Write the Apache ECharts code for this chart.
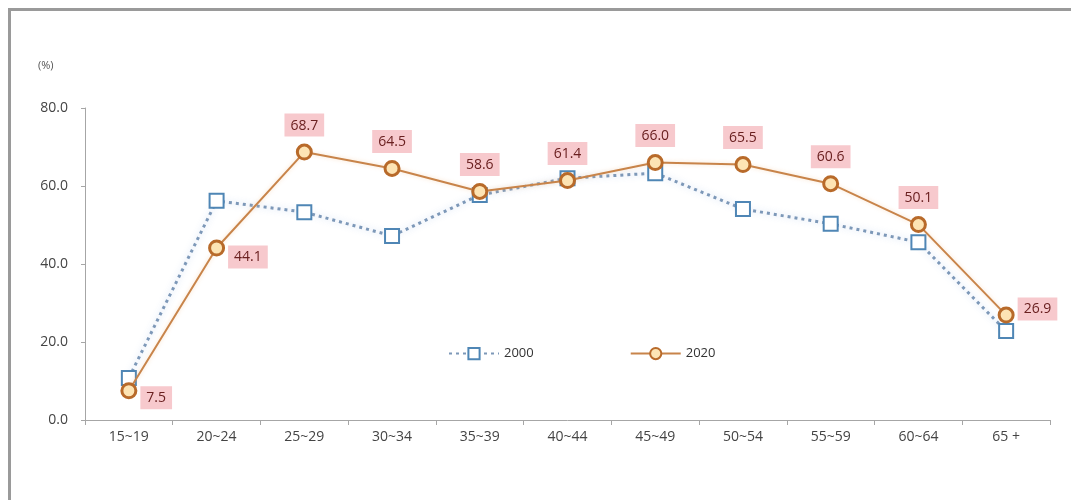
<!DOCTYPE html>
<html>
<head>
<meta charset="utf-8">
<script src="https://cdn.jsdelivr.net/npm/echarts@6/dist/echarts.min.js"></script>
<style>
  html, body { margin: 0; padding: 0; background: #fff; overflow: hidden; }
  #frame { position: absolute; left: 8px; top: 8px; width: 1100px; height: 540px;
           border: 3px solid #9a9a9a; box-sizing: border-box; }
  #chart { position: absolute; left: 0; top: 0; width: 1071px; height: 500px; }
</style>
</head>
<body>
<div id="frame"></div>
<div id="chart"></div>
<script>
// Age groups along the x axis
const categories = ['15~19', '20~24', '25~29', '30~34', '35~39', '40~44', '45~49', '50~54', '55~59', '60~64', '65+'];
// Rates (%) for each year
const values2000 = [10.8, 56.2, 53.3, 47.2, 57.7, 62.0, 63.3, 54.1, 50.3, 45.6, 22.8];
const values2020 = [7.5, 44.1, 68.7, 64.5, 58.6, 61.4, 66.0, 65.5, 60.6, 50.1, 26.9];
const yTicks = [0, 20, 40, 60, 80];
const xLabels = ['15~19', '20~24', '25~29', '30~34', '35~39', '40~44', '45~49', '50~54', '55~59', '60~64', '65 +'];

const font = '"Open Sans", "Noto Sans", sans-serif';

// Value tag placement for the 2020 line
const tagPos = ['right', 'right', 'top', 'top', 'top', 'top', 'top', 'top', 'top', 'top', 'right'];
const tagOffset = [[0, 7], [0, 9], [0, 0], [0, 0], [0, 0], [0, 0], [0, 0], [0, 0], [0, 0], [0, 0], [0, -6]];

const chart = echarts.init(document.getElementById('chart'), null, { renderer: 'canvas' });
chart.setOption({
  animation: false,
  backgroundColor: 'transparent',
  textStyle: { fontFamily: font },
  grid: { left: 85, right: 21, top: 108, bottom: 80 },
  graphic: [{
    type: 'text', left: 38, top: 60,
    style: { text: '(%)', fontSize: 11, fill: '#555', fontFamily: font }
  }],
  legend: {
    left: 443, top: 342,
    itemWidth: 50, itemHeight: 14, itemGap: 96,
    textStyle: { fontSize: 13, color: '#333', fontFamily: font },
    data: ['2000', '2020']
  },
  xAxis: {
    type: 'category',
    data: categories,
    boundaryGap: true,
    axisLine: { lineStyle: { color: '#a6a6a6', width: 1 } },
    axisTick: { show: true, alignWithLabel: false, length: 5, lineStyle: { color: '#a6a6a6' } },
    axisLabel: {
      margin: 10, fontSize: 14, color: '#444', fontFamily: font,
      formatter: (v, i) => xLabels[i]
    }
  },
  yAxis: {
    type: 'value',
    min: yTicks[0], max: yTicks[yTicks.length - 1], interval: 20,
    axisLine: { show: true, lineStyle: { color: '#a6a6a6', width: 1 } },
    axisTick: { show: true, length: 4, lineStyle: { color: '#a6a6a6' } },
    splitLine: { show: false },
    axisLabel: {
      margin: 17, fontSize: 14, color: '#444', fontFamily: font,
      formatter: v => v.toFixed(1)
    }
  },
  series: [
    {
      name: '2000',
      type: 'line',
      data: values2000,
      symbol: 'rect',
      symbolSize: 14,
      z: 2,
      lineStyle: { color: '#7d98b8', width: 3, type: [3, 4],
                   shadowColor: 'rgba(120,160,220,0.45)', shadowBlur: 6 },
      itemStyle: { color: '#ffffff', borderColor: '#4f86b5', borderWidth: 2 }
    },
    {
      name: '2020',
      type: 'line',
      data: values2020.map((v, i) => ({
        value: v,
        label: {
          position: tagPos[i],
          offset: tagOffset[i],
          distance: tagPos[i] === 'right' ? 3 : 7
        }
      })),
      symbol: 'circle',
      symbolSize: 14,
      z: 3,
      lineStyle: { color: '#c8844a', width: 2,
                   shadowColor: 'rgba(240,180,120,0.4)', shadowBlur: 4 },
      itemStyle: { color: '#fde4b4', borderColor: '#b86a2a', borderWidth: 3 },
      label: {
        show: true,
        formatter: p => p.value.toFixed(1),
        fontSize: 14,
        color: '#6a2020',
        fontFamily: font,
        backgroundColor: '#f7c9cd',
        padding: [5, 6, 4, 6]
      }
    }
  ]
});
</script>
</body>
</html>
